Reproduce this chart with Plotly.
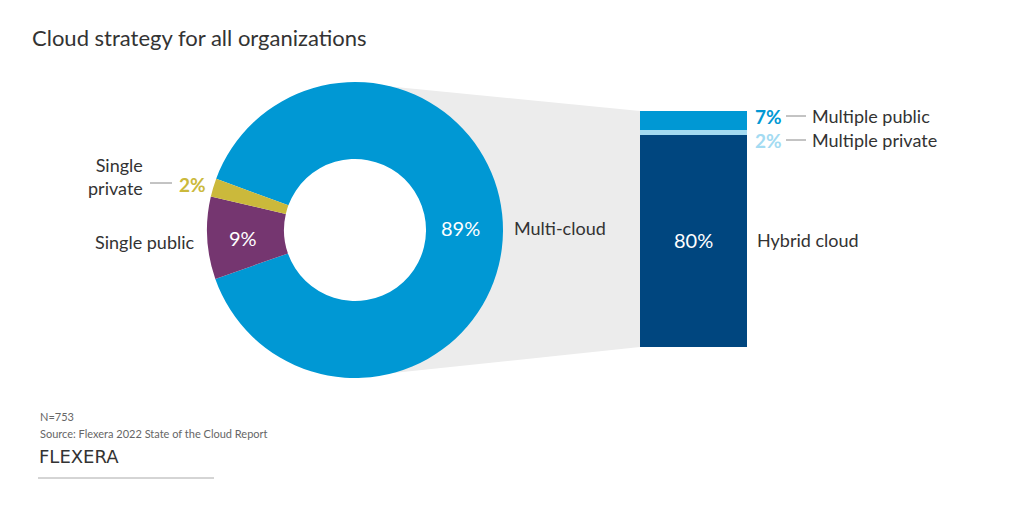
import plotly.graph_objects as go

# ---- data ----
pie_labels = ["Multi-cloud", "Single public", "Single private"]
pie_values = [89, 9, 2]
pie_colors = ["#0098d4", "#753670", "#cbb93b"]

bar_labels = ["Hybrid cloud", "Multiple private", "Multiple public"]
bar_values = [80, 2, 7]
bar_colors = ["#00467f", "#a3dbf2", "#0098d4"]

title = "Cloud strategy for all organizations"
note_n = "N=753"
note_src = "Source: Flexera 2022 State of the Cloud Report"

W, H = 1024, 512
OFF = 8  # page body margin
FONT = "Lato"
TXT = "#333333"


def px(x):
    return (x - OFF) / W


def py(y):
    return 1 - (y - OFF) / H


fig = go.Figure()

# donut
cx, cy, R = 355, 230, 148
fig.add_trace(go.Pie(
    labels=pie_labels, values=pie_values, sort=False, direction="clockwise",
    rotation=-69.7, hole=0.48, textinfo="none", hoverinfo="label+percent",
    marker=dict(colors=pie_colors, line=dict(width=0)),
    domain=dict(x=[px(cx - R), px(cx + R)], y=[py(cy + R), py(cy - R)]),
    showlegend=False,
))

# stacked bar
for lab, val, col in zip(bar_labels, bar_values, bar_colors):
    fig.add_trace(go.Bar(x=["Multi-cloud"], y=[val], name=lab, marker=dict(color=col, line=dict(width=0)),
                         showlegend=False, xaxis="x", yaxis="y"))

bx0, bx1, by0, by1 = 640, 747, 111, 347
fig.update_layout(
    barmode="stack", bargap=0,
    xaxis=dict(domain=[px(bx0), px(bx1)], visible=False, fixedrange=True),
    yaxis=dict(domain=[py(by1), py(by0)], range=[0, sum(bar_values)], visible=False, fixedrange=True),
)

# connecting grey band + white hole cover
path = (f"M {px(cx)} {py(83)} L {px(bx0)} {py(by0)} L {px(bx0)} {py(by1)} "
        f"L {px(cx)} {py(377)} Z")
shapes = [
    dict(type="path", xref="paper", yref="paper", path=path, fillcolor="#ececec",
         line=dict(width=0), layer="below"),
    dict(type="circle", xref="paper", yref="paper", x0=px(cx - 72), x1=px(cx + 72),
         y0=py(cy + 72), y1=py(cy - 72), fillcolor="white", line=dict(width=0), layer="below"),
    # leader lines
    dict(type="line", xref="paper", yref="paper", x0=px(150), x1=px(172), y0=py(183), y1=py(183),
         line=dict(color="#888888", width=1)),
    dict(type="line", xref="paper", yref="paper", x0=px(786), x1=px(806), y0=py(116), y1=py(116),
         line=dict(color="#888888", width=1)),
    dict(type="line", xref="paper", yref="paper", x0=px(786), x1=px(806), y0=py(140), y1=py(140),
         line=dict(color="#888888", width=1)),
    # footer rule
    dict(type="line", xref="paper", yref="paper", x0=px(38), x1=px(214), y0=py(478), y1=py(478),
         line=dict(color="#aaaaaa", width=1)),
]

ann = []


def add(text, x, y, size=18, color=TXT, xanchor="left", bold=False, align="left", family=FONT):
    t = f"<b>{text}</b>" if bold else text
    ann.append(dict(text=t, x=px(x), y=py(y), xref="paper", yref="paper", showarrow=False,
                    xanchor=xanchor, yanchor="middle", align=align,
                    font=dict(family=family, size=size, color=color)))


ann.append(dict(text=title, x=px(30), y=py(37), xref="paper", yref="paper", showarrow=False,
                xanchor="left", yanchor="middle", font=dict(family=FONT, size=22, color=TXT)))

# donut labels
add(f"{pie_values[0]}%", 460, 228, color="white", xanchor="center", size=20)
add(pie_labels[0], 512, 228)
add(f"{pie_values[1]}%", 243, 238, color="white", xanchor="center", size=20)
add(pie_labels[1], 197, 242, xanchor="right")
add(f"{pie_values[2]}%", 177, 184, color=pie_colors[2], bold=True, size=19)
add("Single<br>private", 145, 176, xanchor="right", align="right")

# bar labels
add(f"{bar_values[0]}%", 693, 240, color="white", xanchor="center", size=20)
add(bar_labels[0], 755, 240)
add(f"{bar_values[2]}%", 753, 116, color=bar_colors[2], bold=True, size=19)
add(bar_labels[2], 810, 116)
add(f"{bar_values[1]}%", 753, 140, color="#a3dbf2", bold=True, size=19)
add(bar_labels[1], 810, 140)

# footer
add(note_n, 38, 416, size=11, color="#666666")
add(note_src, 38, 433, size=11, color="#666666")
add("FLEXERA", 37, 456, size=18, color="#333333", family="DejaVu Sans")

fig.update_layout(
    width=W, height=H, margin=dict(l=0, r=0, t=0, b=0),
    paper_bgcolor="white", plot_bgcolor="rgba(0,0,0,0)",
    shapes=shapes, annotations=ann,
)

fig.write_html("out.html")
